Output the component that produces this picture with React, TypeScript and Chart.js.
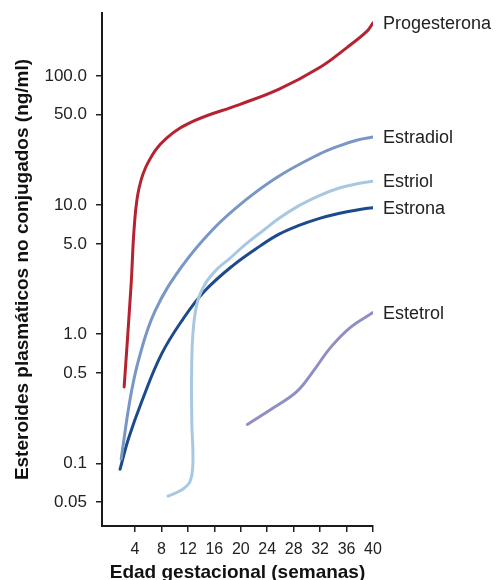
import React, { useEffect, useRef } from 'react';
import { Chart, registerables } from 'chart.js';

Chart.register(...registerables);

// Axis ticks
const xTicks = [4, 8, 12, 16, 20, 24, 28, 32, 36, 40];
const yTicks = [0.05, 0.1, 0.5, 1, 5, 10, 50, 100];
const yTickLabels = ['0.05', '0.1', '0.5', '1.0', '5.0', '10.0', '50.0', '100.0'];

const xTitle = 'Edad gestacional (semanas)';
const yTitle = 'Esteroides plasmáticos no conjugados (ng/ml)';

// Series (weeks, ng/ml)
const progesteronaWeeks = [2.35, 3.4, 3.9, 4.6, 6.0, 8.77, 13.0, 19.8, 25.8, 31.8, 36.0, 39.1, 40];
const progesteronaValues = [0.39, 2.4, 7.0, 13.5, 21.5, 33, 45, 60, 79, 115, 165, 222, 258];

const estradiolWeeks = [1.9, 3.25, 4.6, 7.0, 11.0, 15.77, 20.8, 25.8, 31.8, 34.8, 37.8, 40];
const estradiolValues = [0.108, 0.314, 0.65, 1.5, 3.3, 6.47, 11.0, 16.8, 24.7, 28.6, 32.0, 33.6];

const estriolWeeks = [9.0, 11.0, 12.3, 12.75, 12.6, 12.55, 12.75, 13.4, 14.6, 16.3, 18.3, 20.8, 23.3, 25.8, 28.8, 31.8, 34.8, 37.8, 40];
const estriolValues = [0.0556, 0.062, 0.072, 0.1, 0.2, 0.45, 1.0, 1.75, 2.45, 3.15, 3.85, 5.0, 6.3, 7.9, 9.9, 11.8, 13.5, 14.7, 15.3];

const estronaWeeks = [1.74, 3.0, 5.0, 8.0, 11.26, 14.5, 18.8, 23.0, 25.8, 28.8, 31.8, 34.8, 37.8, 40];
const estronaValues = [0.09, 0.155, 0.3, 0.7, 1.31, 2.15, 3.4, 4.85, 5.95, 6.95, 7.85, 8.6, 9.2, 9.55];

const estetrolWeeks = [21.0, 25.0, 28.5, 31.0, 33.5, 36.5, 40];
const estetrolValues = [0.2, 0.27, 0.36, 0.52, 0.78, 1.12, 1.47];

const seriesNames = ['Progesterona', 'Estradiol', 'Estriol', 'Estrona', 'Estetrol'];
const seriesWeeks = [progesteronaWeeks, estradiolWeeks, estriolWeeks, estronaWeeks, estetrolWeeks];
const seriesValues = [progesteronaValues, estradiolValues, estriolValues, estronaValues, estetrolValues];
const seriesColors = ['#b52330', '#7896c6', '#a8c8e2', '#1d4a8c', '#908fc4'];

const FONT = '"Liberation Sans", Arial, Helvetica, sans-serif';

const endLabelPlugin = {
  id: 'endLabels',
  afterDatasetsDraw(chart: any) {
    const ctx = chart.ctx;
    ctx.save();
    ctx.font = `18px ${FONT}`;
    ctx.fillStyle = '#222';
    ctx.textAlign = 'left';
    ctx.textBaseline = 'middle';
    chart.data.datasets.forEach((ds: any, i: number) => {
      const meta = chart.getDatasetMeta(i);
      const last = meta.data[meta.data.length - 1];
      if (last) ctx.fillText(ds.label, last.x + 10, last.y + 1);
    });
    ctx.restore();
  },
};

export default function App() {
  const canvasRef = useRef<HTMLCanvasElement | null>(null);

  useEffect(() => {
    if (!canvasRef.current) return;
    Chart.defaults.font.family = FONT;
    Chart.defaults.color = '#222';
    const datasets = seriesNames.map((name, i) => ({
      label: name,
      data: seriesWeeks[i].map((w, j) => ({ x: w, y: seriesValues[i][j] })),
      borderColor: seriesColors[i],
      backgroundColor: seriesColors[i],
      borderWidth: 3,
      pointRadius: 0,
      tension: 0.4,
      cubicInterpolationMode: 'default',
      fill: false,
      borderCapStyle: 'round',
      borderJoinStyle: 'round',
    }));
    const chart = new Chart(canvasRef.current, {
      type: 'line',
      data: { datasets },
      plugins: [endLabelPlugin],
      options: {
        animation: false,
        responsive: true,
        maintainAspectRatio: false,
        layout: { padding: { left: 11, top: 13, right: 125, bottom: 0 } },
        plugins: { legend: { display: false }, tooltip: { enabled: false } },
        scales: {
          x: {
            type: 'linear',
            min: -1,
            max: 40,
            bounds: 'data',
            afterBuildTicks: (s: any) => { s.ticks = xTicks.map((v) => ({ value: v })); },
            afterFit: (s: any) => { s.height = 54; s.paddingLeft = 0; s.paddingRight = 0; },
            ticks: { autoSkip: false, maxRotation: 0, padding: 8, color: '#222', font: { size: 16 } },
            grid: { display: true, drawOnChartArea: false, drawTicks: true, tickLength: 6, color: '#222', lineWidth: 1.5 },
            border: { display: true, color: '#1a1a1a', width: 2 },
            title: { display: true, text: xTitle, color: '#111', font: { size: 19, weight: 'bold', lineHeight: '14px' }, padding: 0 },
          },
          y: {
            type: 'logarithmic',
            min: 0.0327,
            max: 307,
            bounds: 'data',
            afterBuildTicks: (s: any) => { s.ticks = yTicks.map((v) => ({ value: v })); },
            afterFit: (s: any) => { s.width = 91; s.paddingTop = 0; s.paddingBottom = 0; },
            ticks: {
              autoSkip: false,
              padding: 9,
              color: '#222',
              font: { size: 17 },
              callback: (v: any) => { const k = yTicks.indexOf(Number(v)); return k >= 0 ? yTickLabels[k] : ''; },
            },
            grid: { display: true, drawOnChartArea: false, drawTicks: true, tickLength: 6, color: '#222', lineWidth: 1.5 },
            border: { display: true, color: '#1a1a1a', width: 2 },
            title: { display: true, text: yTitle, color: '#111', font: { size: 19, weight: 'bold' }, padding: 0 },
          },
        },
      } as any,
    });
    return () => chart.destroy();
  }, []);

  return (
    <div style={{ position: 'fixed', left: 0, top: 0, width: 498, height: 580, background: '#fff' }}>
      <canvas ref={canvasRef} />
    </div>
  );
}
